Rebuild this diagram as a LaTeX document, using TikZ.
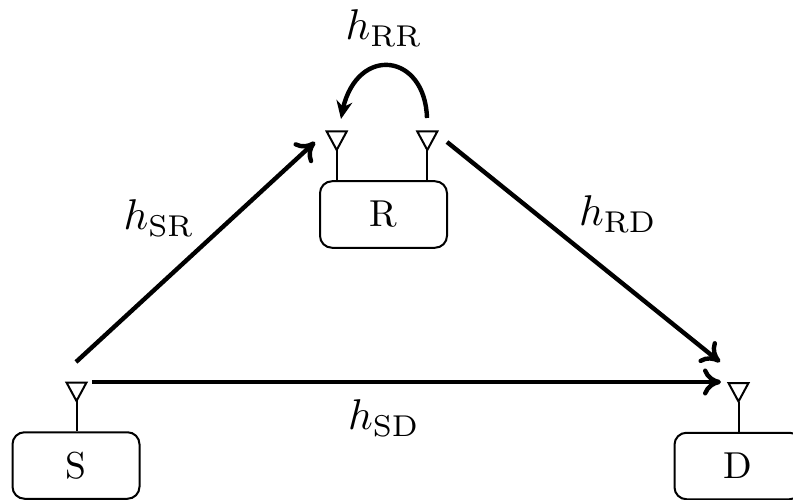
\documentclass[tikz,border=0pt]{standalone}
\usetikzlibrary{arrows.meta,bending}
\newcommand{\bigtxt}[1]{\raisebox{-1.5pt}{\scalebox{3.75}{#1}}}
\newcommand{\bigmath}[1]{\scalebox{4.3}{#1}}
\tikzset{
  x=1pt,y=-1pt,
  terminal/.style={draw=black,line width=2pt,rounded corners=12pt,minimum width=127pt,minimum height=66.5pt,inner sep=0pt},
  channel/.style={line width=4.4pt,-{Computer Modern Rightarrow[length=18pt,width=27pt,line width=4.4pt]}},
  ant/.style={line width=2pt,line join=miter},
  chlabel/.style={inner sep=0pt},
}
\newcommand{\antenna}[1]{%
  \draw[ant] (#1) ++(-10,-18.5) -- ++(20,0) -- (#1) -- cycle;}
\begin{document}
\begin{tikzpicture}
\useasboundingbox (0,0) rectangle (793,500);
\clip (0,0) rectangle (793,500);
\node[terminal] (S) at (76,465.5) {\bigtxt{S}};
\node[terminal] (R) at (383.5,214.5) {\bigtxt{R}};
\node[terminal] (D) at (738,466) {\bigtxt{D}};
\coordinate (aS) at (76.5,401);
\coordinate (aRL) at (336.7,150);
\coordinate (aRR) at (427.3,150);
\coordinate (aD) at (738.5,401.5);
\foreach \a in {aS,aRL,aRR,aD} {\antenna{\a}}
\draw[ant] (aS) -- (aS |- S.north);
\draw[ant] (aRL) -- (aRL |- R.north);
\draw[ant] (aRR) -- (aRR |- R.north);
\draw[ant] (aD) -- (aD |- D.north);
\coordinate (sr0) at (76,362);
\coordinate (sr1) at (315,142);
\coordinate (sd0) at (92,382);
\coordinate (sd1) at (721,382);
\coordinate (rd0) at (447,142);
\coordinate (rd1) at (720,362);
\coordinate (rr0) at (427,118);
\coordinate (rr1) at (341,119);
\draw[channel] (sr0) -- (sr1);
\draw[channel] (sd0) -- (sd1);
\draw[channel] (rd0) -- (rd1);
\draw[channel,-{Stealth[length=18pt,width=16pt,flex]}] (rr0) .. controls (425,50) and (351,44) .. (rr1);
\node[chlabel] (lRR) at (384,28) {\bigmath{$h_{\mathrm{RR}}$}};
\node[chlabel] (lSR) at (159,218) {\bigmath{$h_{\mathrm{SR}}$}};
\node[chlabel] (lRD) at (618,214) {\bigmath{$h_{\mathrm{RD}}$}};
\node[chlabel] (lSD) at (384,418) {\bigmath{$h_{\mathrm{SD}}$}};
\end{tikzpicture}
\end{document}
